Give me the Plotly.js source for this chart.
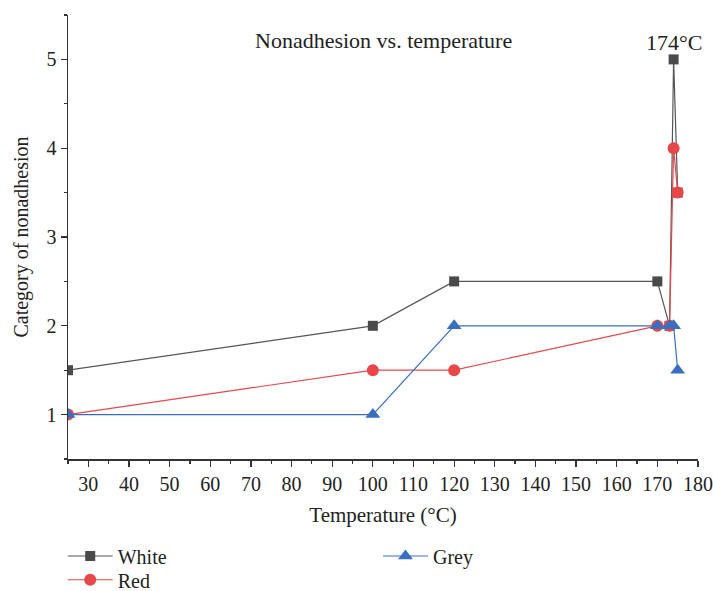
<!DOCTYPE html>
<html><head><meta charset="utf-8">
<script src="https://cdn.plot.ly/plotly-3.0.1.min.js"></script>
<style>html,body{margin:0;padding:0;background:#fff}</style>
</head><body>
<div id="chart" style="width:713px;height:591px"></div>
<script>
const temps = [25, 100, 120, 170, 173, 174, 175];
const whiteVals = [1.5, 2, 2.5, 2.5, 2, 5, 3.5];
const redVals = [1, 1.5, 1.5, 2, 2, 4, 3.5];
const greyVals = [1, 1, 2, 2, 2, 2, 1.5];
const xTicks = [30, 40, 50, 60, 70, 80, 90, 100, 110, 120, 130, 140, 150, 160, 170, 180];
const yTicks = [1, 2, 3, 4, 5];
const font = 'Liberation Serif, Times New Roman, serif';

const traces = [
  {x: temps, y: whiteVals, name: 'White', mode: 'lines+markers', legend: 'legend',
   line: {color: '#555555', width: 1.2}, marker: {symbol: 'square', size: 10, color: '#4a4a4a'}},
  {x: temps, y: redVals, name: 'Red', mode: 'lines+markers', legend: 'legend2',
   line: {color: '#e8474a', width: 1.2}, marker: {symbol: 'circle', size: 12, color: '#e8474a'}},
  {x: temps, y: greyVals, name: 'Grey', mode: 'lines+markers', legend: 'legend3',
   line: {color: '#3a6fc0', width: 1.2}, marker: {symbol: 'triangle-up', size: 13, color: '#3a6fc0'}}
];

const legBase = {font: {family: font, size: 20, color: '#222'}, bgcolor: 'rgba(0,0,0,0)',
  xanchor: 'left', yanchor: 'middle', itemwidth: 45};
const layout = {
  width: 713, height: 591,
  margin: {l: 68, r: 15, t: 15, b: 132, autoexpand: false},
  paper_bgcolor: '#fff', plot_bgcolor: '#fff',
  font: {family: font, size: 20, color: '#222'},
  showlegend: true,
  legend: Object.assign({}, legBase, {x: -0.0084, y: -0.2185}),
  legend2: Object.assign({}, legBase, {x: -0.0084, y: -0.272}),
  legend3: Object.assign({}, legBase, {x: 0.492, y: -0.2185}),
  xaxis: {
    range: [25, 180], tickvals: xTicks, ticktext: xTicks.map(String),
    showline: true, linecolor: '#333', linewidth: 1.5, showgrid: false, zeroline: false,
    ticks: 'outside', ticklen: 6, tickcolor: '#333', tickwidth: 1.2,
    minor: {dtick: 5, tick0: 0, ticks: 'outside', ticklen: 3, tickcolor: '#333', tickwidth: 1.2, showgrid: false},
    tickfont: {family: font, size: 20, color: '#222'},
    title: {text: 'Temperature (°C)', font: {family: font, size: 21, color: '#222'}, standoff: 14}
  },
  yaxis: {
    range: [0.5, 5.5], tickvals: yTicks, ticktext: yTicks.map(String),
    showline: true, linecolor: '#333', linewidth: 1.5, showgrid: false, zeroline: false,
    ticks: 'outside', ticklen: 6, tickcolor: '#333', tickwidth: 1.2,
    minor: {dtick: 0.5, tick0: 0, ticks: 'outside', ticklen: 3, tickcolor: '#333', tickwidth: 1.2, showgrid: false},
    tickfont: {family: font, size: 20, color: '#222'},
    title: {text: 'Category of nonadhesion', font: {family: font, size: 20, color: '#222'}, standoff: 12}
  },
  annotations: [
    {text: 'Nonadhesion vs. temperature', xref: 'paper', yref: 'paper', x: 0.5, y: 0.943,
     showarrow: false, font: {family: font, size: 22, color: '#222'}, xanchor: 'center', yanchor: 'middle'},
    {text: '174°C', xref: 'x', yref: 'paper', x: 174, y: 0.938,
     showarrow: false, font: {family: font, size: 22, color: '#222'}, xanchor: 'center', yanchor: 'middle'}
  ]
};
Plotly.newPlot('chart', traces, layout, {displayModeBar: false, staticPlot: true});
</script>
</body></html>
